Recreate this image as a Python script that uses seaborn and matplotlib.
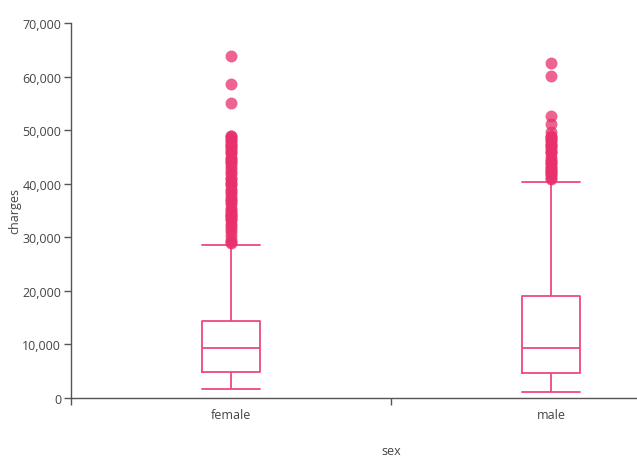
import matplotlib
matplotlib.use("Agg")
import matplotlib.pyplot as plt
import numpy as np
import pandas as pd
import seaborn as sns
from matplotlib.ticker import FuncFormatter, FixedLocator, FixedFormatter, NullFormatter

# ---------------- data ----------------
categories = ["female", "male"]
# lower whisker, Q1, median, Q3, upper whisker
female_box = [1607, 4885, 9413, 14455, 28477]
male_box = [1122, 4700, 9370, 18950, 40273]
female_outliers = [63770, 58570, 55135, 48970, 48820, 48520, 48170, 47930, 47500,
                   47300, 47050, 46700, 46250, 46000, 45700, 45000, 44600, 44400,
                   44000, 43900, 43300, 42800, 42100, 41900, 41000, 40900, 40400,
                   40000, 39700, 39100, 38700, 38300, 37700, 37100, 36900, 36600,
                   36200, 35500, 35100, 34800, 34400, 34200, 33900, 33700, 33500,
                   33300, 32500, 32100, 31600, 30900, 30300, 29500, 29200, 29000]
male_outliers = [62590, 60020, 52590, 51190, 49580, 49000, 48800, 48500, 48100,
                 47900, 47500, 47300, 47000, 46700, 46200, 45900, 45700, 45000,
                 44500, 44200, 43900, 43600, 43200, 42900, 42600, 42300, 42100,
                 41900, 41700, 41100, 40900]
y_ticks = [0, 10000, 20000, 30000, 40000, 50000, 60000, 70000]

PINK = "#e8306d"
LINE = "#ea4a7e"
GREY = "#444444"

box_df = pd.DataFrame({
    "sex": ["female"] * len(female_box) + ["male"] * len(male_box),
    "charges": female_box + male_box,
})
out_df = pd.DataFrame({
    "sex": ["female"] * len(female_outliers) + ["male"] * len(male_outliers),
    "charges": female_outliers + male_outliers,
})

sns.set_style("white")
plt.rcParams["font.family"] = ["Open Sans", "DejaVu Sans"]

fig = plt.figure(figsize=(6.37, 4.64), dpi=100)
ax = fig.add_axes([71 / 637, 65 / 464, 640 / 637, 375 / 464])

box_kws = dict(data=box_df, x="sex", y="charges", order=categories, fill=False,
               color=LINE, linewidth=1.3, width=0.18, whis=1.5,
               showfliers=False, ax=ax)
try:
    sns.boxplot(**box_kws, capwidths=0.18)
except TypeError:
    sns.boxplot(**box_kws)

sns.stripplot(data=out_df, x="sex", y="charges", order=categories, jitter=False,
              color=PINK, alpha=0.75, size=8.6, linewidth=0, ax=ax, zorder=3)

ax.set_xlim(-0.5, 1.5)
ax.set_ylim(0, 70000)
ax.set_yticks(y_ticks)
ax.yaxis.set_major_formatter(FuncFormatter(lambda v, p: f"{int(v):,}"))

ax.xaxis.set_major_locator(FixedLocator([-0.5, 0.5, 1.5]))
ax.xaxis.set_major_formatter(NullFormatter())
ax.xaxis.set_minor_locator(FixedLocator([0, 1]))
ax.xaxis.set_minor_formatter(FixedFormatter(categories))

ax.tick_params(axis="x", which="major", length=5, width=1, color="#555555", direction="out", bottom=True)
ax.tick_params(axis="x", which="minor", length=0, pad=7, labelsize=9, labelcolor=GREY, bottom=True)
ax.tick_params(axis="y", which="major", length=5, width=1, color="#555555", direction="out",
               pad=2, labelsize=9, labelcolor=GREY, left=True)

for s in ["top", "right"]:
    ax.spines[s].set_visible(False)
for s in ["left", "bottom"]:
    ax.spines[s].set_color("#555555")
    ax.spines[s].set_linewidth(1)

ax.set_xlabel("sex", fontsize=9, color=GREY, labelpad=17)
ax.set_ylabel("charges", fontsize=9, color=GREY, labelpad=1)
ax.grid(False)

fig.savefig("out.png", dpi=100)
